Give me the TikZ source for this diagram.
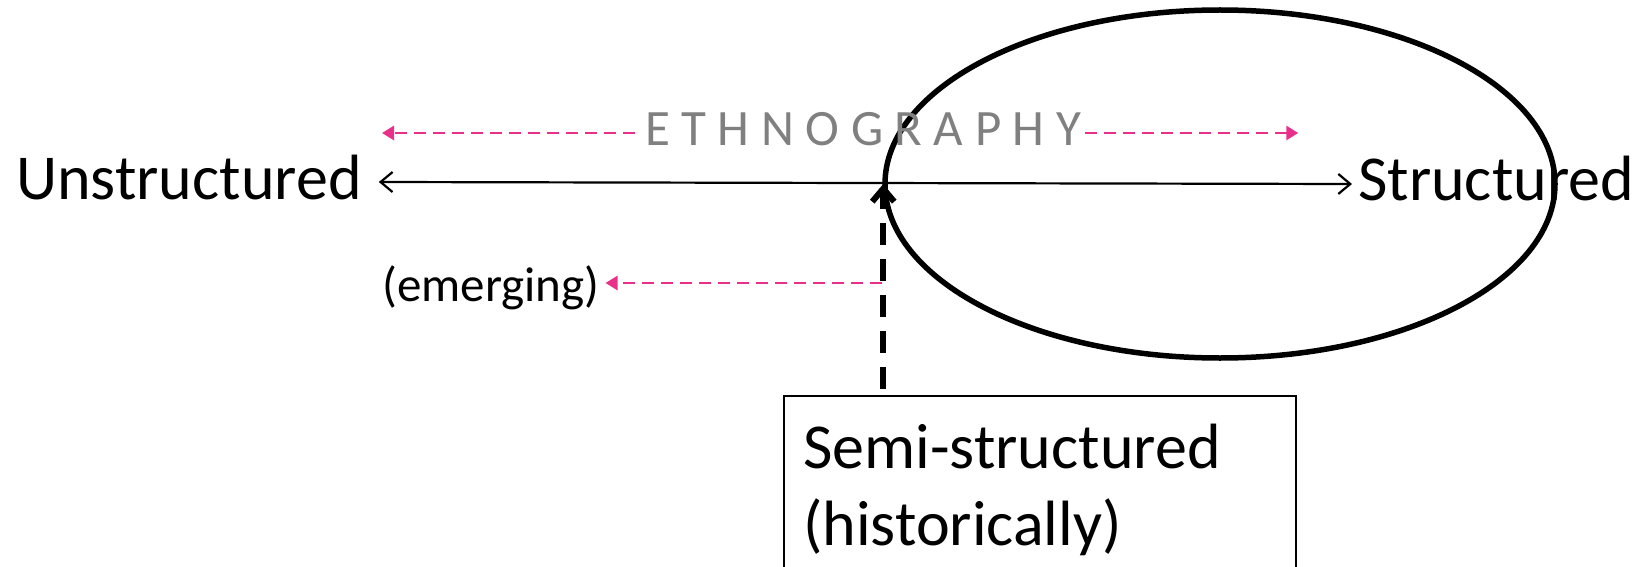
\documentclass[tikz,border=0pt]{standalone}
\usepackage{fontspec}
\setmainfont{Carlito}
\usetikzlibrary{arrows.meta,shapes.geometric,calc}
\definecolor{pinkarrow}{RGB}{232,48,138}
\definecolor{labelgray}{RGB}{128,128,128}
\begin{document}
\begin{tikzpicture}[x=1pt,y=-1pt,
  biglabel/.style={anchor=base west, inner sep=0pt, font=\fontsize{64}{77}\selectfont},
  ethlabel/.style={anchor=base west, inner sep=0pt, text=labelgray, font=\fontsize{51}{60}\selectfont},
  smalllabel/.style={anchor=base west, inner sep=0pt, font=\fontsize{49}{58}\selectfont},
  mainarrow/.style={line width=2.2pt, {Straight Barb[length=12pt,width=20pt]}-{Straight Barb[length=12pt,width=20pt]}},
  pinkdash/.style={pinkarrow, line width=2.8pt, dash pattern=on 12pt off 7pt, -{Triangle[length=12pt,width=14pt]}},
  vdash/.style={line width=6pt, dash pattern=on 22pt off 14pt, -{Straight Barb[length=13pt,width=22pt]}},
  ellipsebox/.style={draw, ellipse, line width=5.5pt, inner sep=0pt, minimum width=670pt, minimum height=348pt},
  framebox/.style={draw, line width=1.6pt, anchor=north west, inner sep=0pt, minimum width=512pt, minimum height=200pt}
]
\useasboundingbox (0,0) rectangle (1638,567);

\node[ellipsebox] (ell) at (1220,184) {};

\node[biglabel] (unstr) at (16,199) {Unstructured};
\node[biglabel] (str) at (1358,200) {Structured};
\node[ethlabel] (eth) at (645,146) {E T H N O G R A P H Y};
\node[smalllabel] (emerg) at (382,301) {(emerging)};

\node[framebox] (semibox) at (783,395) {};
\node[biglabel, align=left] (semitext) at (803,545) {Semi-structured\\(historically)};

\draw[mainarrow] ($(unstr.base east)+(17,-17)$) -- ($(str.base west)+(-6,-16)$);

\draw[pinkdash] ($(eth.base west)+(-10,-13)$) -- ++(-253,0);
\draw[pinkdash] ($(eth.base east)+(4,-13)$) -- ++(213,0);

\draw[pinkdash] ($(ell.west |- emerg.base)+(0,-18)$) -- ($(emerg.base east)+(6,-18)$);

\draw[vdash] ($(ell.west |- semibox.north)+(1,-6)$) -- ($(ell.west)+(1,0)$);
\end{tikzpicture}
\end{document}
